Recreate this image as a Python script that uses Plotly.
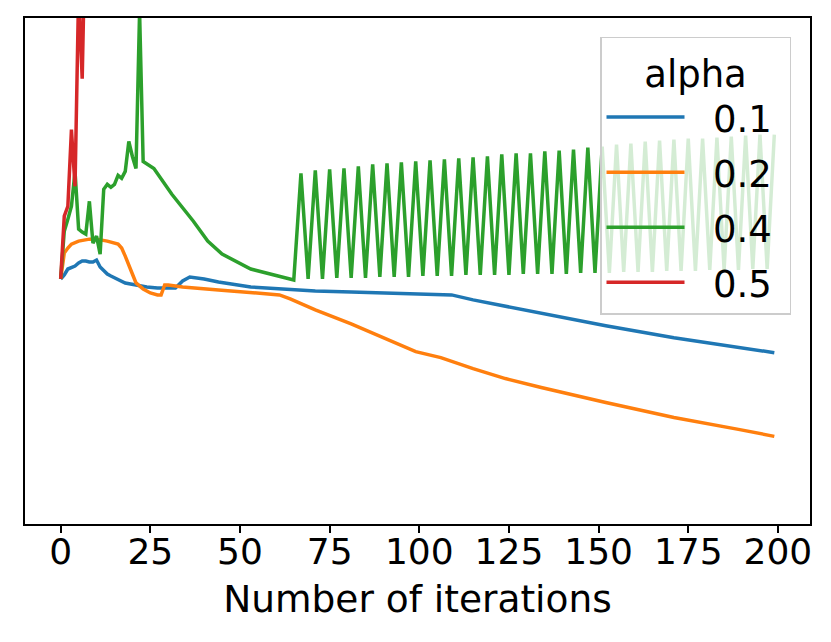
import plotly.graph_objects as go

# alpha = 0.1
blue_x = [0, 1, 2, 3, 4, 5, 6, 7, 8, 9, 10, 11, 12, 13, 14, 16, 18, 21, 24, 27, 30, 32, 34, 36, 40, 44,
          53, 62, 71, 81, 90, 99, 106, 109, 115, 134, 152, 171, 189, 199]
blue_y = [2.46, 2.50, 2.56, 2.58, 2.59, 2.62, 2.64, 2.64, 2.63, 2.63, 2.65, 2.58, 2.54, 2.51, 2.49, 2.45,
          2.42, 2.40, 2.38, 2.37, 2.37, 2.37, 2.44, 2.48, 2.46, 2.43, 2.38, 2.36, 2.34, 2.33, 2.32, 2.31,
          2.31, 2.30, 2.25, 2.12, 1.99, 1.87, 1.77, 1.72]

# alpha = 0.2
orange_x = [0, 1, 2, 3, 5, 8, 10, 13, 16, 17, 18, 19, 20, 21, 23, 25, 27, 28, 29, 30, 32, 34, 44, 53, 61,
            64, 71, 81, 90, 99, 106, 115, 124, 134, 152, 171, 189, 199]
orange_y = [2.46, 2.72, 2.77, 2.81, 2.84, 2.86, 2.86, 2.84, 2.81, 2.77, 2.69, 2.59, 2.51, 2.42, 2.36, 2.32,
            2.30, 2.30, 2.40, 2.40, 2.39, 2.38, 2.35, 2.32, 2.30, 2.26, 2.15, 2.01, 1.87, 1.73, 1.67, 1.56,
            1.46, 1.37, 1.22, 1.07, 0.95, 0.88]

# alpha = 0.4, first part
green_x = [0, 1, 2, 3, 4, 5, 6, 7, 8, 9, 10, 11, 12, 13, 14, 15, 16, 17, 18, 19, 20, 21, 22, 23, 26, 31,
           37, 41, 45, 53, 65]
green_y = [2.46, 2.94, 3.06, 3.19, 3.54, 2.96, 2.93, 2.91, 3.24, 2.82, 2.89, 2.71, 3.36, 3.41, 3.38, 3.41,
           3.50, 3.47, 3.54, 3.84, 3.69, 3.57, 5.14, 3.64, 3.57, 3.31, 3.04, 2.84, 2.71, 2.56, 2.45]
# alpha = 0.4, oscillating part (peaks at 67, 71, ... 199, troughs at 69, 73, ... 197)
green_peak_x = list(range(67, 200, 4))
green_peak_y = [3.52, 3.55, 3.56, 3.57, 3.59, 3.61, 3.62, 3.63, 3.64, 3.65, 3.66, 3.67, 3.68, 3.69, 3.71,
                3.72, 3.72, 3.74, 3.75, 3.76, 3.78, 3.79, 3.81, 3.82, 3.84, 3.85, 3.86, 3.87, 3.87, 3.88,
                3.89, 3.90, 3.91, 3.91]
green_trough_x = list(range(69, 198, 4))
green_trough_y = [2.46, 2.46, 2.47, 2.47, 2.47, 2.48, 2.48, 2.48, 2.49, 2.49, 2.49, 2.50, 2.50, 2.50, 2.50,
                  2.51, 2.51, 2.51, 2.51, 2.52, 2.52, 2.52, 2.53, 2.53, 2.53, 2.54, 2.54, 2.54, 2.55, 2.55,
                  2.55, 2.56, 2.56]

# alpha = 0.5 (diverges)
red_x = [0, 1, 2, 3, 4, 5, 6, 7]
red_y = [2.46, 3.09, 3.19, 3.96, 3.39, 5.34, 4.47, 6.24]

x_ticks = [0, 25, 50, 75, 100, 125, 150, 175, 200]

osc = sorted(zip(green_peak_x + green_trough_x, green_peak_y + green_trough_y))
gx = green_x + [p[0] for p in osc]
gy = green_y + [p[1] for p in osc]

series = [
    ("0.1", blue_x, blue_y, "#1f77b4"),
    ("0.2", orange_x, orange_y, "#ff7f0e"),
    ("0.4", gx, gy, "#2ca02c"),
    ("0.5", red_x, red_y, "#d62728"),
]

fig = go.Figure()
for name, xs, ys, col in series:
    # nbsp padding widens the legend like matplotlib's
    label = "\u00a0\u00a0" + name + "\u00a0"
    fig.add_trace(go.Scatter(x=xs, y=ys, mode="lines", name=label, legendgroup=name,
                             line=dict(color=col, width=3.5)))

axis_style = dict(showline=True, mirror=True, linecolor="black", linewidth=1.5,
                  showgrid=False, zeroline=False)

# page body has an 8px margin, so the figure is a bit smaller than the window
fig.update_layout(
    width=815, height=626,
    margin=dict(l=17, r=13, t=8, b=110),
    plot_bgcolor="white", paper_bgcolor="white",
    font=dict(family="DejaVu Sans", size=36, color="black"),
    legend=dict(
        title=dict(text="alpha", side="top center", font=dict(size=37)),
        x=0.9758, y=0.9626, xanchor="right", yanchor="top",
        bgcolor="rgba(255,255,255,0.8)", bordercolor="#cccccc", borderwidth=1.5,
        font=dict(size=37), itemwidth=78, tracegroupgap=4,
    ),
)
fig.update_xaxes(range=[-9.95, 208.95], tickvals=x_ticks, ticks="outside", ticklen=7, tickwidth=1.5,
                 tickcolor="black", ticklabelstandoff=-12,
                 title=dict(text="Number of iterations", standoff=15, font=dict(size=37.5)), **axis_style)
fig.update_yaxes(range=[0, 5.08], showticklabels=False, ticks="", **axis_style)

fig.write_html("out.html")
